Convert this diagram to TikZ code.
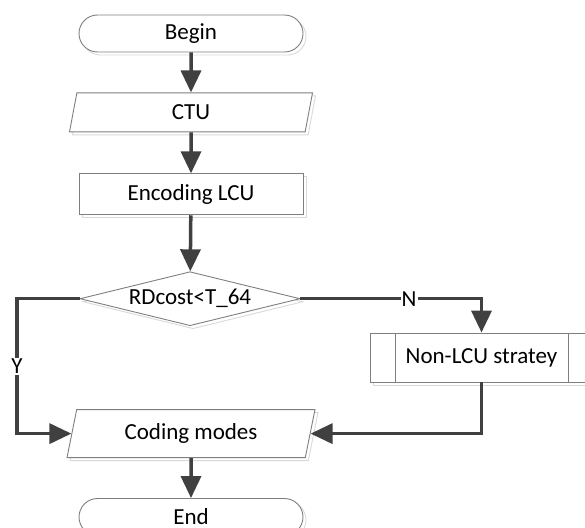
\documentclass[tikz,border=0pt]{standalone}
\usepackage{fontspec}
\setmainfont{Carlito}
\usetikzlibrary{shapes.geometric, shapes.misc, positioning, arrows.meta, shadows}

\definecolor{linegray}{HTML}{404040}
\definecolor{edgegray}{HTML}{7F7F7F}

\tikzset{
  shape base/.style={draw=edgegray, line width=0.9pt, fill=white, inner sep=0pt,
    font=\fontsize{23}{27}\selectfont,
    copy shadow={shadow xshift=3pt, shadow yshift=-3pt, draw=black!15, fill=none}},
  terminal/.style={shape base, rounded rectangle, minimum width=224pt, minimum height=37pt},
  io/.style={shape base, trapezium, trapezium left angle=64, trapezium right angle=116,
    trapezium stretches body, minimum height=#1},
  process/.style={shape base, rectangle, minimum width=224pt, minimum height=41pt},
  decision/.style={shape base, diamond, aspect=4.07, minimum width=220pt, minimum height=54pt},
  subprocess/.style={shape base, rectangle, minimum width=223pt, minimum height=49pt,
    path picture={
      \draw[edgegray, line width=0.9pt]
        ([xshift=25pt]path picture bounding box.north west) -- ([xshift=25pt]path picture bounding box.south west)
        ([xshift=-25pt]path picture bounding box.north east) -- ([xshift=-25pt]path picture bounding box.south east);}},
  flow/.style={draw=linegray, line width=3.5pt, -{Triangle[width=20pt,length=22pt]}},
  branch/.style={fill=white, inner sep=1pt, font=\fontsize{23}{27}\selectfont, text=black}
}

\begin{document}
\begin{tikzpicture}[x=1pt, y=1pt, node distance=40pt]
      \useasboundingbox (0,0) rectangle (585,-527);

      % main column
      \node[terminal] (begin) at (191,-33.5) {Begin};
      \node[io=39pt, minimum width=243pt] (ctu) [below=40pt of begin] {CTU};
      \node[process] (enc) [below=41pt of ctu] {Encoding LCU};
      \node[decision] (dec) [below=56pt of enc, xshift=-1pt] {RDcost<T\_64};
      \node[io=48pt, minimum width=248pt] (code) [below=83pt of dec, xshift=1pt] {Coding modes};
      \node[terminal] (end) [below=40pt of code] {End};

      % side branch
      \node[subprocess] (nonlcu) at (481.5,-357.5) {Non-LCU stratey};
      \coordinate (ycorner) at (17,-297);

      % connectors
      \draw[flow] (begin) -- (ctu);
      \draw[flow] (ctu) -- (enc);
      \draw[flow] (enc) -- (dec);
      \draw[flow] (code) -- (end);

      \draw[flow] (dec.west) -- (dec.west -| ycorner) |- node[branch, pos=0.25] {Y} (code);
      \draw[flow] (dec.east) -| node[branch, pos=0.3] {N} (nonlcu);
      \draw[flow] (nonlcu) |- (code);
\end{tikzpicture}
\end{document}
